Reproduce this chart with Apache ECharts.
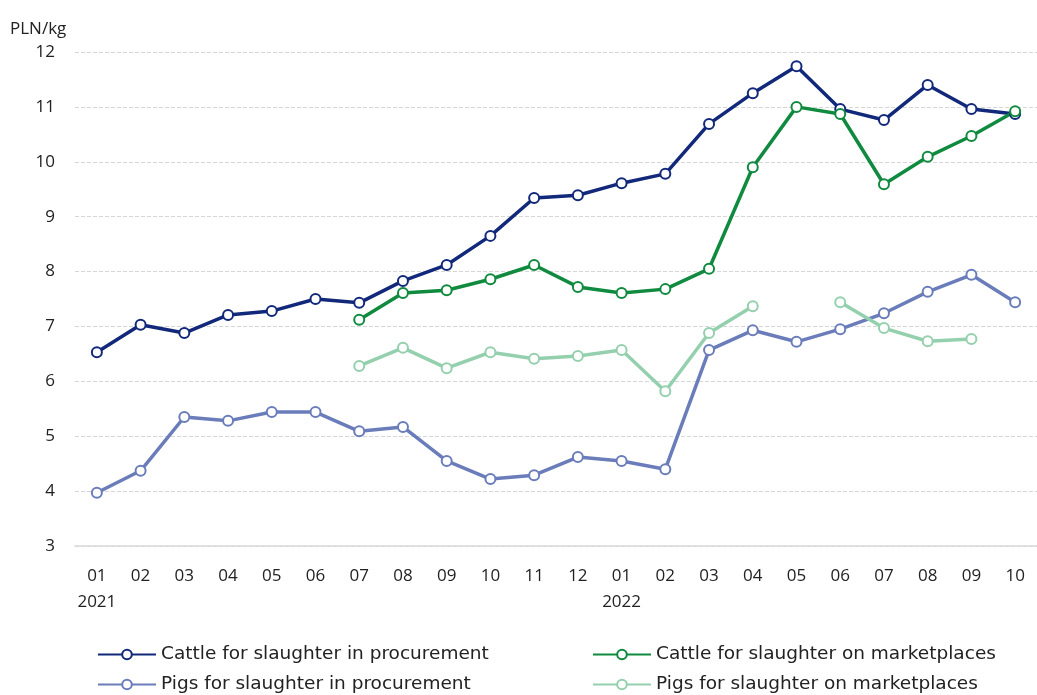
<!DOCTYPE html>
<html>
<head>
<meta charset="utf-8">
<script src="https://cdn.jsdelivr.net/npm/echarts@6/dist/echarts.min.js"></script>
<style>
  html, body { margin: 0; padding: 0; background: #fff; }
  #main { width: 1037px; height: 695px; }
</style>
</head>
<body>
<div id="main"></div>
<script>
// months 01.2021 - 10.2022
var months = ['01', '02', '03', '04', '05', '06', '07', '08', '09', '10', '11', '12',
  '01', '02', '03', '04', '05', '06', '07', '08', '09', '10'];
var years = { 0: '2021', 12: '2022' };

var cattleProcurement = [6.53, 7.03, 6.88, 7.21, 7.28, 7.5, 7.43, 7.83, 8.12, 8.65, 9.34, 9.39,
  9.61, 9.78, 10.69, 11.25, 11.74, 10.96, 10.76, 11.4, 10.96, 10.87];
var cattleMarket = [null, null, null, null, null, null, 7.12, 7.61, 7.66, 7.86, 8.12, 7.72,
  7.61, 7.68, 8.05, 9.9, 11.0, 10.87, 9.59, 10.09, 10.47, 10.92];
var pigsProcurement = [3.97, 4.37, 5.35, 5.28, 5.44, 5.44, 5.09, 5.17, 4.55, 4.22, 4.29, 4.62,
  4.55, 4.4, 6.57, 6.93, 6.72, 6.95, 7.24, 7.63, 7.94, 7.44];
var pigsMarket = [null, null, null, null, null, null, 6.28, 6.61, 6.24, 6.53, 6.41, 6.46,
  6.57, 5.82, 6.88, 7.37, null, 7.44, 6.97, 6.73, 6.77, null];

var font = '"Open Sans", "Noto Sans", sans-serif';
var legendFont = '"DejaVu Sans", "Open Sans", sans-serif';
var textColor = '#222';

function line(name, data, color) {
  return {
    name: name,
    type: 'line',
    data: data,
    symbol: 'emptyCircle',
    symbolSize: 10,
    showAllSymbol: true,
    connectNulls: false,
    lineStyle: { color: color, width: 3.5 },
    itemStyle: { color: color, borderWidth: 3 },
    emphasis: { disabled: true }
  };
}

function legendItem(name, left, top) {
  return {
    left: left, top: top, padding: 0,
    itemWidth: 58, itemHeight: 12,
    textStyle: { color: textColor, fontSize: 18.5, fontFamily: legendFont },
    data: [name]
  };
}

var chart = echarts.init(document.getElementById('main'));
chart.setOption({
  animation: false,
  textStyle: { fontFamily: font },
  grid: { left: 75, right: 0, top: 52, bottom: 149 },
  xAxis: {
    type: 'category',
    data: months,
    boundaryGap: true,
    axisLine: { show: true, lineStyle: { color: '#d9d9d9', width: 1.5 } },
    axisTick: { show: false },
    axisLabel: {
      color: textColor, fontSize: 17, fontFamily: font, margin: 17, lineHeight: 26,
      interval: 0,
      formatter: function (v, i) { return years[i] ? v + '\n' + years[i] : v; }
    }
  },
  yAxis: {
    type: 'value',
    min: 3, max: 12, interval: 1,
    name: 'PLN/kg',
    nameLocation: 'end',
    nameGap: 14,
    nameTextStyle: { color: textColor, fontSize: 17, fontFamily: font, align: 'left', padding: [0, 0, 0, -65] },
    axisLine: { show: false },
    axisTick: { show: false },
    axisLabel: { color: textColor, fontSize: 17, fontFamily: font, margin: 20 },
    splitLine: { lineStyle: { color: '#d6d6d6', type: 'dashed', width: 1 } }
  },
  legend: [
    legendItem('Cattle for slaughter in procurement', 97, 645),
    legendItem('Pigs for slaughter in procurement', 97, 675),
    legendItem('Cattle for slaughter on marketplaces', 592, 645),
    legendItem('Pigs for slaughter on marketplaces', 592, 675)
  ],
  series: [
    line('Cattle for slaughter in procurement', cattleProcurement, '#12287a'),
    line('Cattle for slaughter on marketplaces', cattleMarket, '#0f8a3f'),
    line('Pigs for slaughter in procurement', pigsProcurement, '#6a7dba'),
    line('Pigs for slaughter on marketplaces', pigsMarket, '#94d0ad')
  ]
});
</script>
</body>
</html>
